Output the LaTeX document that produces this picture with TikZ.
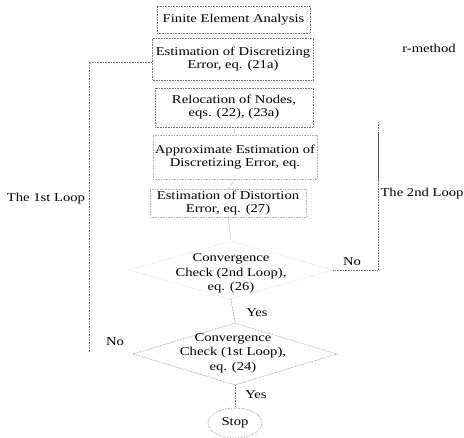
\documentclass[tikz,border=0pt]{standalone}
\usepackage{fontspec}
\setmainfont{Liberation Serif}[FakeStretch=1.22]
\usetikzlibrary{shapes.geometric}
\begin{document}
\begin{tikzpicture}[x=1pt,y=-1pt,
  txt/.style={font=\fontsize{12}{13}\selectfont, align=center, inner sep=0},
  dtxt/.style={font=\fontsize{12}{14.5}\selectfont, align=center, inner sep=0},
  box/.style={txt, draw=black!55, densely dotted, line width=0.6pt},
  fbox/.style={txt, draw=black!30, densely dotted, line width=0.6pt},
  dia/.style={diamond, draw=black!50, densely dotted, line width=0.6pt, inner sep=0},
  fdia/.style={diamond, draw=black!15, densely dotted, line width=0.6pt, inner sep=0},
  conn/.style={draw=black!55, densely dotted, line width=0.6pt},
  lbl/.style={txt}]
\useasboundingbox (0,0) rectangle (464,438);
\node[box, minimum width=153, minimum height=27] (fea) at (233.5,19.5) {Finite Element Analysis};
\node[box, minimum width=161, minimum height=42] (est) at (233,59) {Estimation of Discretizing\\Error, eq. (21a)};
\node[box, minimum width=158, minimum height=39] (reloc) at (234,107.5) {Relocation of Nodes,\\eqs. (22), (23a)};
\node[fbox, minimum width=164, minimum height=44] (approx) at (235,157) {Approximate Estimation of\\Discretizing Error, eq.};
\node[fbox, minimum width=156, minimum height=28] (dist) at (228,203) {Estimation of Distortion\\Error, eq. (27)};
\node[fdia, minimum width=204, minimum height=58] (c2) at (231,270) {};
\node[dtxt] (c2t) at (231,273.5) {Convergence\\Check (2nd Loop),\\eq. (26)};
\node[dia, minimum width=204, minimum height=62] (c1) at (235,354) {};
\node[dtxt] (c1t) at (233,353) {Convergence\\Check (1st Loop),\\eq. (24)};
\node[ellipse, draw=black!55, densely dotted, line width=0.6pt, minimum width=54, minimum height=30, inner sep=0, txt] (stop) at (235,423) {Stop};

\draw[conn] (fea.south) -- (est.north);
\draw[conn] (est.south) -- (reloc.north);
\draw[conn] (reloc.south) -- (approx.north);
\draw[conn] (approx.south) -- (dist.north);
\draw[conn] (dist.south) -- (c2.north);
\draw[conn] (c2.south) -- (c1.north);
\draw[conn] (c1.south) -- (stop.north);

\coordinate (l1b) at (89,352);
\coordinate (l1t) at (89,62);
\draw[conn] (l1b) -- (l1t) -- (est.west |- l1t);
\coordinate (l2b) at (378,270);
\coordinate (l2t) at (378,122);
\coordinate (l2s1) at (378,133);
\coordinate (l2s2) at (378,180);
\draw[conn] (c2.east) -- (l2b) -- (l2t);
\draw[draw=black!65, line width=0.6pt] (l2s1) -- (l2s2);

\node[lbl] (yes1) at (257,313) {Yes};
\node[lbl] (yes2) at (256,395) {Yes};
\node[lbl] (no1) at (115,342) {No};
\node[lbl] (no2) at (352,262) {No};
\node[lbl] (loop1) at (46,199) {The 1st Loop};
\node[lbl] (loop2) at (422,194) {The 2nd Loop};
\node[lbl] (rm) at (429,48) {r-method};
\end{tikzpicture}
\end{document}
